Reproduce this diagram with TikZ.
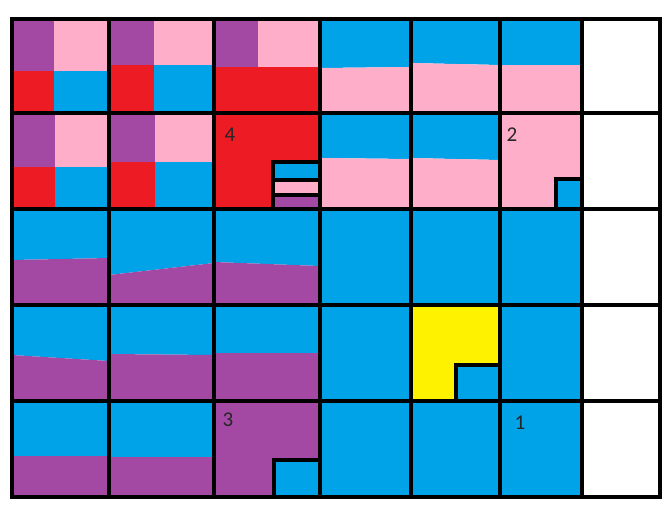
\documentclass[tikz,border=0pt]{standalone}
\usepackage{fontspec}
\setmainfont{Carlito}
\definecolor{pmorado}{HTML}{A349A4}
\definecolor{prosa}{HTML}{FFAEC9}
\definecolor{projo}{HTML}{ED1C24}
\definecolor{pazul}{HTML}{00A2E8}
\definecolor{pamarillo}{HTML}{FFF200}

% celda en dos franjas: x izq/der, y arriba/abajo, corte izq/der, color arriba/abajo
\newcommand{\splitCell}[8]{
    \fill[#7] (#1,#3) -- (#2,#3) -- (#2,#6) -- (#1,#5) -- cycle;
    \fill[#8] (#1,#5) -- (#2,#6) -- (#2,#4) -- (#1,#4) -- cycle;
}
% celda en cuatro: x izq, x medio, x der, y arriba, y medio, y abajo
\newcommand{\quadCell}[6]{
    \fill[pmorado] (#1,#4) rectangle (#2,#5);
    \fill[prosa]   (#2,#4) rectangle (#3,#5);
    \fill[projo]   (#1,#5) rectangle (#2,#6);
    \fill[pazul]   (#2,#5) rectangle (#3,#6);
}
% caja de esquina: x izq, y arriba, x der, y abajo, color
\newcommand{\cornerBox}[5]{
    \fill[#5] (#1,#2) rectangle (#3,#4);
    \draw[inset line] (#1,#4) -- (#1,#2) -- (#3,#2);
}

\begin{document}
\begin{tikzpicture}[
    x=0.02cm, y=-0.02cm,
    % Estilos de lineas
    grid line/.style={line width=2.8pt, black, line cap=rect},
    inset line/.style={line width=2.2pt, black},
    % Estilo de numeros
    cell number/.style={font=\fontsize{12}{14}\selectfont, text=black!85, inner sep=0pt}
]

% Fondo y marco de la imagen
\fill[white] (0,0) rectangle (667,507);

% 1. Fila 1
\quadCell{12}{54}{109}{19}{71}{113}
\quadCell{109}{154}{214}{19}{65}{113}
\fill[pmorado] (214,19) rectangle (258,67);
\fill[prosa] (258,19) rectangle (320,67);
\fill[projo] (214,67) rectangle (320,113);
\foreach \xa/\xb/\yl/\yr in {320/411/68/67, 411/500/63/65, 500/582/65/65}{
    \splitCell{\xa}{\xb}{19}{113}{\yl}{\yr}{pazul}{prosa}
}

% 2. Fila 2
\quadCell{12}{55}{109}{113}{167}{209}
\quadCell{109}{155}{214}{113}{162}{209}
\fill[projo] (214,113) rectangle (320,209);
\fill[pazul] (273,162) rectangle (320,180);
\fill[prosa] (273,180) rectangle (320,195);
\fill[pmorado] (273,195) rectangle (320,209);
\draw[inset line] (273,209) -- (273,162) -- (320,162);
\draw[inset line] (273,180) -- (320,180) (273,195) -- (320,195);
\foreach \xa/\xb/\yl/\yr in {320/411/158/159, 411/500/158/160}{
    \splitCell{\xa}{\xb}{113}{209}{\yl}{\yr}{pazul}{prosa}
}
\fill[prosa] (500,113) rectangle (582,209);
\cornerBox{556}{179}{582}{209}{pazul}

% 3. Filas 3 a 5, columnas izquierdas
\foreach \xa/\xb/\ya/\yb/\yl/\yr in {
    12/109/209/305/260/258, 109/214/209/305/275/263, 214/320/209/305/262/266,
    12/109/305/401/355/361, 109/214/305/401/354/355, 214/320/305/401/353/353,
    12/109/401/497/456/456, 109/214/401/497/457/457}{
    \splitCell{\xa}{\xb}{\ya}{\yb}{\yl}{\yr}{pazul}{pmorado}
}
\fill[pmorado] (214,401) rectangle (320,497);
\cornerBox{274}{460}{320}{497}{pazul}

% 4. Bloque azul y celda amarilla
\fill[pazul] (320,209) rectangle (582,497);
\fill[pamarillo] (411,305) rectangle (500,401);
\cornerBox{456}{365}{500}{401}{pazul}

% 5. Cuadricula
\foreach \x in {12,109,214,320,411,500,582,660}
    \draw[grid line] (\x,19) -- (\x,497);
\foreach \y in {19,113,209,305,401,497}
    \draw[grid line] (12,\y) -- (660,\y);

% 6. Numeros
\node[cell number] (n4) at (230,135) {4};
\node[cell number] (n2) at (512,135) {2};
\node[cell number] (n3) at (228,420) {3};
\node[cell number] (n1) at (520,423) {1};

\end{tikzpicture}
\end{document}
